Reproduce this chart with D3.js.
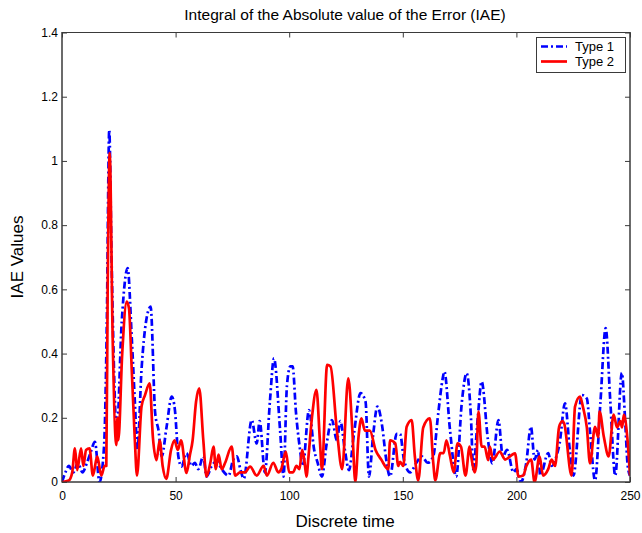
<!DOCTYPE html>
<html>
<head>
<meta charset="utf-8">
<script src="https://cdn.jsdelivr.net/npm/d3@7"></script>
<style>
  body { margin: 0; background: #fff; }
  svg { display: block; font-family: "Liberation Sans", Arial, sans-serif; }
</style>
</head>
<body>
<svg id="chart" width="642" height="533"></svg>
<script>
// IAE readings: time steps and values for each controller type
const type1Time = [0,1.5,3,5,7,9,11,12.5,14.5,16.5,18.5,19.7,20.8,21.8,23.3,24,26.3,28.9,30.7,32.1,33.2,35,37,39,41,42.5,43.9,46,48.3,49.7,51.2,52.6,54.8,57,58.5,60,62.2,63.6,65.9,68.1,70.3,73.3,75.4,77,78.5,80,83.5,85.7,87,89.3,91.5,93.3,96,97.5,99,100.5,101.5,103,104.6,106,108.7,111,112.5,114.4,116.5,118.8,121,122.5,124.5,126.3,128.5,131.4,133.6,135.1,137,138.8,141,142.5,144.4,147.3,148.8,150.5,153.2,156,158.3,161,163.4,165.6,167.5,168.3,170.8,173.5,176,178.1,180,181,183,184.7,187.5,189.4,192.1,194,195.9,198.7,200,202,204.3,206.4,208,209.5,210.5,214,215.5,217.6,219,221.4,223.5,225.1,228.8,231,232.5,234.6,237,239.3,241.3,243.5,246.4,247.8,249,250];
const type1Value = [0,0.03,0.05,0.03,0.06,0.03,0.06,0.09,0.125,0.0,0.11,0.48,1.097,0.7,0.25,0.14,0.5,0.666,0.45,0.245,0.1,0.35,0.5,0.546,0.215,0.16,0.08,0.17,0.266,0.224,0.08,0.048,0.09,0.05,0.06,0.04,0.08,0.017,0.05,0.065,0.04,0.02,0.07,0.08,0.04,0.01,0.193,0.12,0.19,0.03,0.25,0.385,0.16,0.017,0.3,0.36,0.36,0.215,0.11,0.05,0.224,0.1,0.06,0.017,0.12,0.193,0.13,0.19,0.1,0.037,0.15,0.277,0.25,0.017,0.15,0.235,0.17,0.08,0.017,0.15,0.15,0.07,0.03,0.06,0.08,0.06,0.08,0.214,0.32,0.344,0.16,0.017,0.25,0.339,0.2,0.04,0.2,0.313,0.13,0.058,0.193,0.08,0.1,0.03,0.04,0.0,0.058,0.172,0.07,0.1,0.02,0.09,0.05,0.08,0.12,0.245,0.1,0.02,0.271,0.26,0.15,0.005,0.25,0.479,0.255,0.02,0.34,0.2,0.05,0.02];

const type2Time = [0,3,4.5,5.7,6.7,8.4,9.4,10.6,12.1,13.6,15.5,17.3,18.8,19.5,20.1,21,22.3,23.9,24.4,24.8,26.5,28.5,29.5,30.7,32,33,35,36.5,38.6,40,41.6,43,44.3,45.9,48,49.5,51,52.4,54.8,56.3,57.5,59,60.4,62.2,63.6,65.3,66.7,67.7,68.9,70.3,71.8,74.7,76.2,78.4,80.5,82.8,85.7,88.7,90.2,93,95.2,96.5,98.5,100,101.7,103.2,104.5,105.7,106.8,107.6,108.5,110,112,113.5,114.4,116.7,118.2,121,123.3,126,127.8,129.1,130.5,131.8,133.3,135.5,138,140.5,143.6,144.4,146.7,148,148.8,150.2,151.7,153.9,155.3,156.8,159,161.9,163.4,164.3,166.5,168,169.2,170.8,172.4,174.1,175.6,177.6,179.4,180.1,181.6,182.3,183.3,184.7,186,187.6,188.3,189.7,192.7,195,198.1,199.4,200.9,203,204.3,206.5,208,210.2,211.7,214,215.5,217,218.8,220.3,221,224.3,225.8,228,229.4,231,232.4,234.6,236,236.6,238.5,240.6,242.8,244.3,245.8,246.5,247.3,248.8,250];
const type2Value = [0,0.005,0.03,0.105,0.037,0.105,0.05,0.1,0.105,0.02,0.08,0.02,0.05,0.05,0.6,1.024,0.45,0.115,0.2,0.13,0.4,0.562,0.54,0.35,0.14,0.02,0.235,0.27,0.307,0.14,0.068,0.13,0.05,0.01,0.1,0.13,0.1,0.13,0.028,0.084,0.13,0.25,0.292,0.13,0.017,0.06,0.11,0.04,0.085,0.04,0.06,0.11,0.02,0.03,0.03,0.048,0.02,0.05,0.02,0.06,0.03,0.04,0.095,0.03,0.03,0.05,0.04,0.1,0.06,0.017,0.08,0.2,0.287,0.13,0.04,0.365,0.36,0.16,0.04,0.323,0.16,0.0,0.14,0.198,0.16,0.16,0.1,0.07,0.04,0.13,0.12,0.05,0.063,0.05,0.172,0.193,0.08,0.005,0.17,0.198,0.06,0.005,0.09,0.09,0.13,0.08,0.03,0.12,0.11,0.02,0.11,0.08,0.03,0.05,0.219,0.11,0.11,0.068,0.11,0.07,0.095,0.07,0.085,0.089,0.017,0.02,0.048,0.07,0.0,0.08,0.02,0.04,0.07,0.05,0.172,0.19,0.183,0.02,0.235,0.266,0.23,0.17,0.058,0.172,0.14,0.219,0.14,0.08,0.21,0.17,0.19,0.17,0.209,0.14,0.02];

const xTicks = [0, 50, 100, 150, 200, 250];
const yTicks = [0, 0.2, 0.4, 0.6, 0.8, 1, 1.2, 1.4];
const seriesNames = ["Type 1", "Type 2"];

const svg = d3.select("#chart");
const plotLeft = 62, plotRight = 630, plotTop = 32.5, plotBottom = 482;

const x = d3.scaleLinear().domain([0, 250]).range([plotLeft, plotRight]);
const y = d3.scaleLinear().domain([0, 1.4]).range([plotBottom, plotTop]);

const axisColor = "#3a3a3a";

// plot frame
svg.append("rect")
  .attr("x", plotLeft).attr("y", plotTop)
  .attr("width", plotRight - plotLeft).attr("height", plotBottom - plotTop)
  .attr("fill", "#fff").attr("stroke", axisColor).attr("stroke-width", 1);

function styleAxis(g) {
  g.select(".domain").remove();
  g.selectAll(".tick line").attr("stroke", axisColor);
  g.selectAll(".tick text").attr("fill", "#000").attr("font-size", 12)
    .attr("font-family", "'Liberation Sans', Arial, sans-serif");
}

// ticks point inward on all four sides
svg.append("g").attr("transform", `translate(0,${plotBottom})`)
  .call(d3.axisBottom(x).tickValues(xTicks).tickFormat(d3.format("~g")).tickSizeInner(-5).tickSizeOuter(0).tickPadding(9))
  .call(styleAxis);
svg.append("g").attr("transform", `translate(0,${plotTop})`)
  .call(d3.axisTop(x).tickValues(xTicks).tickFormat("").tickSizeInner(-5).tickSizeOuter(0))
  .call(styleAxis);
svg.append("g").attr("transform", `translate(${plotLeft},0)`)
  .call(d3.axisLeft(y).tickValues(yTicks).tickFormat(d3.format("~g")).tickSizeInner(-5).tickSizeOuter(0).tickPadding(4))
  .call(styleAxis);
svg.append("g").attr("transform", `translate(${plotRight},0)`)
  .call(d3.axisRight(y).tickValues(yTicks).tickFormat("").tickSizeInner(-5).tickSizeOuter(0))
  .call(styleAxis);

// smooth through the sampled points without overshooting below zero
const line = d3.line().x(d => x(d[0])).y(d => y(d[1])).curve(d3.curveMonotoneX);
const type1 = d3.zip(type1Time, type1Value);
const type2 = d3.zip(type2Time, type2Value);

svg.append("clipPath").attr("id", "plotClip")
  .append("rect").attr("x", plotLeft).attr("y", plotTop)
  .attr("width", plotRight - plotLeft).attr("height", plotBottom - plotTop);

const plot = svg.append("g").attr("clip-path", "url(#plotClip)");
plot.append("path").datum(type1)
  .attr("d", line).attr("fill", "none")
  .attr("stroke", "#0000ff").attr("stroke-width", 2.7)
  .attr("stroke-dasharray", "7,3,2,3");
plot.append("path").datum(type2)
  .attr("d", line).attr("fill", "none")
  .attr("stroke", "#ff0000").attr("stroke-width", 2.7)
  .attr("stroke-linejoin", "round");

// redraw frame edges over the lines
svg.append("rect")
  .attr("x", plotLeft).attr("y", plotTop)
  .attr("width", plotRight - plotLeft).attr("height", plotBottom - plotTop)
  .attr("fill", "none").attr("stroke", axisColor).attr("stroke-width", 1);

// legend
const lg = svg.append("g");
lg.append("rect").attr("x", 536.5).attr("y", 37.5).attr("width", 89).attr("height", 35)
  .attr("fill", "#fff").attr("stroke", axisColor).attr("stroke-width", 1);
const legendStyles = [
  { color: "#0000ff", dash: "7,3,2,3" },
  { color: "#ff0000", dash: null }
];
seriesNames.forEach((name, i) => {
  const yy = 46.5 + i * 15;
  lg.append("line").attr("x1", 541).attr("x2", 567).attr("y1", yy).attr("y2", yy)
    .attr("stroke", legendStyles[i].color).attr("stroke-width", 2.7)
    .attr("stroke-dasharray", legendStyles[i].dash);
  lg.append("text").attr("x", 575).attr("y", yy + 4.5)
    .attr("font-size", 13).attr("fill", "#000").text(name);
});

// titles
svg.append("text").attr("x", 345).attr("y", 20).attr("text-anchor", "middle")
  .attr("font-size", 15.5).attr("fill", "#000")
  .text("Integral of the Absolute value of the Error (IAE)");
svg.append("text").attr("x", 345).attr("y", 527).attr("text-anchor", "middle")
  .attr("font-size", 17).attr("fill", "#000").text("Discrete time");
svg.append("text").attr("transform", "translate(23,257) rotate(-90)")
  .attr("text-anchor", "middle").attr("font-size", 17).attr("fill", "#000")
  .text("IAE Values");
</script>
</body>
</html>
